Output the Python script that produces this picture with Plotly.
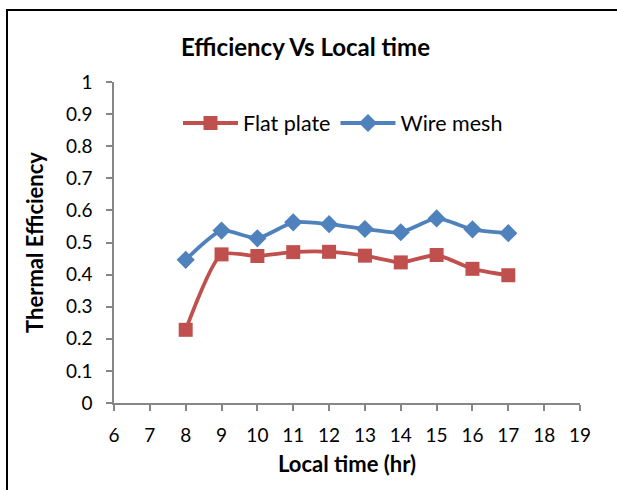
import plotly.graph_objects as go

hours = [8, 9, 10, 11, 12, 13, 14, 15, 16, 17]
flat_plate = [0.228, 0.463, 0.458, 0.470, 0.471, 0.459, 0.438, 0.461, 0.418, 0.398]
wire_mesh = [0.446, 0.537, 0.513, 0.563, 0.557, 0.542, 0.532, 0.575, 0.541, 0.529]
x_ticks = list(range(6, 20))
y_ticks = [0, 0.1, 0.2, 0.3, 0.4, 0.5, 0.6, 0.7, 0.8, 0.9, 1]
y_labels = ["0", "0.1", "0.2", "0.3", "0.4", "0.5", "0.6", "0.7", "0.8", "0.9", "1"]

FONT = "Lato, 'Open Sans', sans-serif"

fig = go.Figure()
fig.add_trace(go.Scatter(
    x=hours, y=flat_plate, name="Flat plate", mode="lines+markers",
    line=dict(color="#C0504D", width=3.8, shape="spline", smoothing=0.6),
    marker=dict(symbol="square", size=14, color="#C0504D"),
))
fig.add_trace(go.Scatter(
    x=hours, y=wire_mesh, name="Wire mesh", mode="lines+markers",
    line=dict(color="#4F81BD", width=3.8, shape="spline", smoothing=0.6),
    marker=dict(symbol="diamond", size=14, color="#4F81BD"),
))

L, R, T, B = 114, 37, 82, 87
W, H = 617, 490
pw = W - L - R
ph = H - T - B

fig.update_layout(
    width=W, height=H,
    margin=dict(l=L, r=R, t=T, b=B),
    paper_bgcolor="white", plot_bgcolor="white",
    font=dict(family=FONT, size=19, color="black"),
    title=dict(text="<b>Efficiency Vs Local time</b>", x=305.5 / W, xanchor="center",
               y=1 - 48 / H, yanchor="middle", font=dict(size=24, family=FONT)),
    showlegend=True,
    legend=dict(orientation="h", x=(178 - L) / pw, xanchor="left",
                y=(H - B - 123) / ph, yanchor="middle",
                font=dict(size=21.5, family=FONT), bgcolor="rgba(0,0,0,0)",
                itemwidth=55, tracegroupgap=0),
    xaxis=dict(range=[6, 19], tickmode="array", tickvals=x_ticks,
               showgrid=False, zeroline=False, showline=True, linecolor="#868686", linewidth=1.5,
               ticks="outside", ticklen=6, tickcolor="#868686", tickwidth=1.5,
               tickfont=dict(size=19), mirror=False, ticklabelstandoff=8,
               title=dict(text="<b>Local time (hr)</b>", font=dict(size=22), standoff=12)),
    yaxis=dict(range=[0, 1], tickmode="array", tickvals=y_ticks, ticktext=y_labels,
               showgrid=False, zeroline=False, showline=True, linecolor="#868686", linewidth=1.5,
               ticks="outside", ticklen=6, tickcolor="#868686", tickwidth=1.5,
               tickfont=dict(size=19), ticklabelstandoff=10,
               title=dict(text="<b>Thermal Efficiency</b>", font=dict(size=22), standoff=16)),
)

# outer chart border
fig.add_shape(type="rect", xref="paper", yref="paper",
              x0=(7 - L) / pw, x1=(W + 30 - L) / pw,
              y0=(H - B - (H + 30)) / ph, y1=(H - B - 10) / ph,
              line=dict(color="black", width=2), fillcolor="rgba(0,0,0,0)", layer="below")

fig.write_html("out.html")
